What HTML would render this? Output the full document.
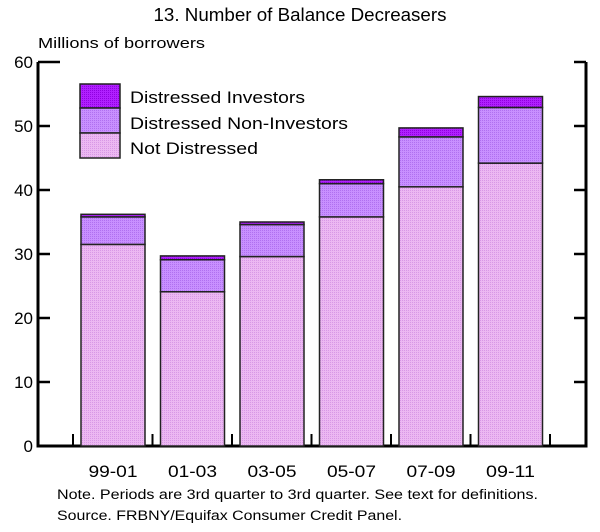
<!DOCTYPE html>
<html><head><meta charset="utf-8"><style>
body{margin:0;background:#fff;}
svg text{font-family:"Liberation Sans",Arial,sans-serif;fill:#000;}
</style></head><body>
<svg id="chart" width="600" height="527" viewBox="0 0 600 527" xmlns="http://www.w3.org/2000/svg">
<defs>
<pattern id="pNot" width="2" height="2" patternUnits="userSpaceOnUse"><rect width="2" height="2" fill="#ecb8f2"/><rect width="1" height="1" fill="#d898e6"/></pattern>
<pattern id="pNon" width="2" height="2" patternUnits="userSpaceOnUse"><rect width="2" height="2" fill="#c890ff"/><rect width="1" height="1" fill="#b070f0"/></pattern>
<pattern id="pInv" width="2" height="2" patternUnits="userSpaceOnUse"><rect width="2" height="2" fill="#b020ff"/><rect width="1" height="1" fill="#9000e0"/></pattern>
</defs>
<text x="300" y="21" font-size="18" text-anchor="middle" textLength="293" lengthAdjust="spacingAndGlyphs">13. Number of Balance Decreasers</text>
<text x="38" y="48" font-size="15" textLength="167" lengthAdjust="spacingAndGlyphs">Millions of borrowers</text>
<g id="axes"></g>
<g id="bars"></g>
<g>
<rect x="80" y="84" width="40" height="24" fill="url(#pInv)" stroke="#222" stroke-width="1.5"/>
<rect x="80" y="108" width="40" height="25" fill="url(#pNon)" stroke="#222" stroke-width="1.5"/>
<rect x="80" y="133" width="40" height="25" fill="url(#pNot)" stroke="#222" stroke-width="1.5"/>
<text x="130" y="103" font-size="17" textLength="175" lengthAdjust="spacingAndGlyphs">Distressed Investors</text>
<text x="130" y="129" font-size="17" textLength="218" lengthAdjust="spacingAndGlyphs">Distressed Non-Investors</text>
<text x="130" y="154" font-size="17" textLength="128" lengthAdjust="spacingAndGlyphs">Not Distressed</text>
</g>
<text x="57" y="499" font-size="13.5" textLength="481" lengthAdjust="spacingAndGlyphs">Note. Periods are 3rd quarter to 3rd quarter.  See text for definitions.</text>
<text x="57" y="520" font-size="13.5" textLength="345" lengthAdjust="spacingAndGlyphs">Source. FRBNY/Equifax Consumer Credit Panel.</text>
</svg>
<script>
const categories=["99-01","01-03","03-05","05-07","07-09","09-11"];
const notDistressed=[31.5,24.1,29.6,35.8,40.5,44.2];
const nonInvestors=[4.3,5.0,5.0,5.2,7.8,8.7];
const investors=[0.4,0.6,0.4,0.6,1.4,1.7];
const yTicks=[0,10,20,30,40,50,60];
const NS="http://www.w3.org/2000/svg";
const x0=38,x1=586,yTop=62,yBot=446,step=79.5,barW=64,firstBar=81;
function y(v){return yBot-(v/60)*(yBot-yTop);}
function xb(i){return firstBar+i*step;}
function mk(tag,attrs,parent){const e=document.createElementNS(NS,tag);for(const k in attrs)e.setAttribute(k,attrs[k]);parent.appendChild(e);return e;}
const axes=document.getElementById('axes'),bars=document.getElementById('bars');
let e=mk('path',{d:`M${x0},${yTop} V${yBot} H${x1} V${yTop}`,fill:'none',stroke:'#000','stroke-width':3},axes);


yTicks.forEach(t=>{
 const yy=y(t);
 const len=t===60?22:12;
 if(t>0){
 let l=mk('line',{x1:x0,x2:x0+len,y1:yy,y2:yy,stroke:'#000','stroke-width':2.5},axes);
 
 
 let r=mk('line',{x1:x1-len+(t===60?10:0),x2:x1,y1:yy,y2:yy,stroke:'#000','stroke-width':2.5},axes);
 
 
 }
 let tx=mk('text',{x:x0-5,y:yy+6,'font-size':17,'text-anchor':'end',fill:'#000'},axes);
 tx.textContent=t;
 
 
});
for(let i=0;i<=categories.length;i++){
 const xx=firstBar-8+i*step;
 let l=mk('line',{x1:xx,x2:xx,y1:yBot,y2:yBot-12,stroke:'#000','stroke-width':2},axes);
 
 
}
categories.forEach((c,i)=>{
 const xl=xb(i);
 const segs=[[0,notDistressed[i],'url(#pNot)','not-distressed'],[notDistressed[i],notDistressed[i]+nonInvestors[i],'url(#pNon)','non-investors'],[notDistressed[i]+nonInvestors[i],notDistressed[i]+nonInvestors[i]+investors[i],'url(#pInv)','investors']];
 segs.forEach(s=>{
  let r=mk('rect',{x:xl,y:y(s[1]),width:barW,height:y(s[0])-y(s[1]),fill:s[2],stroke:'#222','stroke-width':1.5},bars);
  
  
 });
 let t=mk('text',{x:xl+barW/2,y:477,'font-size':17,'text-anchor':'middle',textLength:49,lengthAdjust:'spacingAndGlyphs',fill:'#000'},bars);
 t.textContent=c;
 
 
});
</script>
</body></html>
